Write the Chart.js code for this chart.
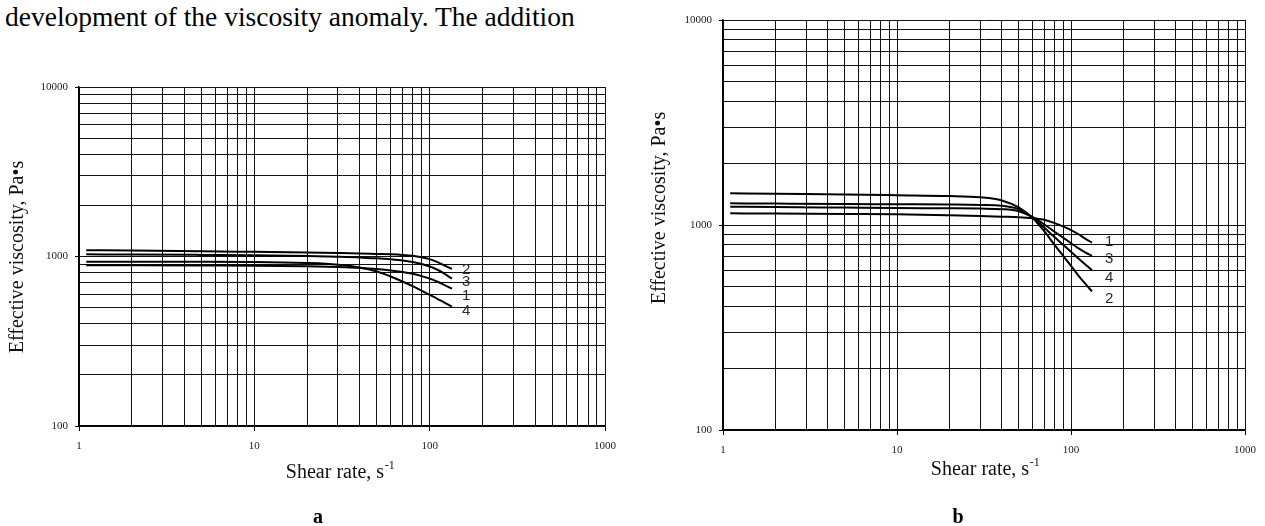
<!DOCTYPE html>
<html>
<head>
<meta charset="utf-8">
<script src="https://cdn.jsdelivr.net/npm/chart.js@4.4.1/dist/chart.umd.min.js"></script>
<style>
  html, body { margin: 0; padding: 0; background: #fff; }
  body { width: 1265px; height: 526px; position: relative; overflow: hidden; font-family: "Liberation Serif", "Times New Roman", serif; }
  #topText { position: absolute; left: 5px; top: 1px; font-size: 27.5px; line-height: 32px; color: #000; white-space: nowrap; }
  .panel { position: absolute; top: 0; }
  #cA { left: 0; }
  #cB { left: 640px; }
  .plabel { position: absolute; top: 505px; font-size: 20px; font-weight: bold; color: #000; transform: translateX(-50%); }
</style>
</head>
<body>
<div id="topText">development of the viscosity anomaly. The addition</div>
<canvas id="cA" class="panel" width="640" height="526"></canvas>
<canvas id="cB" class="panel" width="625" height="526"></canvas>
<div class="plabel" style="left:318px">a</div>
<div class="plabel" style="left:958px">b</div>
<script>
// ---------- data ----------
const curveNames = ['1', '2', '3', '4'];
const xTickLabels = [1, 10, 100, 1000];
const yTickLabels = [100, 1000, 10000];

const shearRateA = [1.1, 2, 5, 10, 20, 30, 40, 50, 60, 70, 80, 90, 100, 110, 120, 134];
const viscA1 = [888, 887, 885, 883, 875, 866, 856, 843, 828, 810, 790, 766, 740, 712, 683, 646];
const viscA2 = [1090, 1085, 1075, 1065, 1055, 1048, 1042, 1035, 1030, 1022, 1010, 990, 965, 930, 890, 846];
const viscA3 = [1030, 1027, 1022, 1018, 1008, 998, 988, 975, 962, 948, 928, 903, 873, 838, 797, 740];
const viscA4 = [930, 930, 930, 928, 915, 895, 862, 815, 762, 712, 668, 628, 594, 565, 538, 506];

const shearRateB = [1.1, 2, 5, 10, 20, 30, 40, 50, 60, 70, 80, 90, 100, 110, 120, 132];
const viscB1 = [1140, 1137, 1132, 1128, 1115, 1105, 1098, 1092, 1080, 1060, 1024, 984, 945, 904, 861, 820];
const viscB2 = [1428, 1420, 1410, 1398, 1385, 1365, 1318, 1218, 1085, 935, 805, 708, 632, 568, 520, 474];
const viscB3 = [1228, 1224, 1216, 1210, 1206, 1202, 1195, 1168, 1095, 1008, 930, 868, 815, 772, 738, 706];
const viscB4 = [1276, 1272, 1266, 1262, 1258, 1253, 1242, 1195, 1088, 972, 876, 802, 740, 688, 645, 603];

const xTitle = 'Shear rate, s';
const xTitleSup = '-1';
const yTitle = 'Effective viscosity, Pa\u2022s';

// ---------- helpers ----------
function decadeGrid(labels) {
  const out = [];
  for (let i = 0; i < labels.length - 1; i++) {
    for (let m = 1; m <= 9; m++) out.push(labels[i] * m);
  }
  out.push(labels[labels.length - 1]);
  return out;
}
function isMajor(v, labels) { return labels.some(l => Math.abs(l - v) < 1e-9); }

const serif = '"Liberation Serif", "Times New Roman", serif';
const gridColor = '#111';

const titlePlugin = {
  id: 'axisTitles',
  afterDraw(chart, args, o) {
    const ctx = chart.ctx;
    ctx.save();
    ctx.fillStyle = '#111';
    ctx.textBaseline = 'middle';
    const big = `${o.size}px ${serif}`;
    const small = `${Math.round(o.size * 0.62)}px ${serif}`;
    ctx.font = big;
    const w1 = ctx.measureText(xTitle).width;
    ctx.font = small;
    const w2 = ctx.measureText(xTitleSup).width;
    const x0 = o.xPos[0] - (w1 + w2) / 2;
    ctx.textAlign = 'left';
    ctx.font = big;
    ctx.fillText(xTitle, x0, o.xPos[1]);
    ctx.font = small;
    ctx.fillText(xTitleSup, x0 + w1 + 0.5, o.xPos[1] - o.size * 0.36);
    ctx.font = big;
    ctx.translate(o.yPos[0], o.yPos[1]);
    ctx.rotate(-Math.PI / 2);
    ctx.textAlign = 'center';
    ctx.fillText(yTitle, 0, 0);
    ctx.restore();
  }
};

const curveLabelPlugin = {
  id: 'curveLabels',
  afterDatasetsDraw(chart, args, o) {
    const ctx = chart.ctx;
    ctx.save();
    ctx.fillStyle = '#2a2a35';
    ctx.font = '15px "Liberation Sans", Arial, sans-serif';
    ctx.textAlign = 'left';
    ctx.textBaseline = 'middle';
    chart.data.datasets.forEach((ds, i) => {
      const meta = chart.getDatasetMeta(i);
      const last = meta.data[meta.data.length - 1];
      ctx.fillText(ds.label, last.x + o.dx, last.y + o.dy[i]);
    });
    ctx.restore();
  }
};

function makeChart(id, xs, series, area, canvasW, canvasH, titles, labelOffsets) {
  const datasets = series.map((vals, i) => ({
    label: curveNames[i],
    data: xs.map((x, j) => ({ x: x, y: vals[j] })),
    borderColor: '#000',
    borderWidth: 2,
    pointRadius: 0,
    fill: false,
    cubicInterpolationMode: 'monotone'
  }));
  const xGrid = decadeGrid(xTickLabels);
  const yGrid = decadeGrid(yTickLabels);
  return new Chart(document.getElementById(id), {
    type: 'line',
    data: { datasets },
    plugins: [titlePlugin, curveLabelPlugin],
    options: {
      responsive: false,
      maintainAspectRatio: false,
      animation: false,
      layout: { padding: { top: area.top, right: canvasW - area.right, left: 0, bottom: 0 } },
      plugins: {
        legend: { display: false },
        tooltip: { enabled: false },
        axisTitles: titles,
        curveLabels: labelOffsets
      },
      scales: {
        x: {
          type: 'logarithmic',
          min: xTickLabels[0],
          max: xTickLabels[xTickLabels.length - 1],
          afterBuildTicks: s => { s.ticks = xGrid.map(v => ({ value: v })); },
          afterFit: s => { s.height = canvasH - area.bottom; },
          ticks: {
            autoSkip: false,
            maxRotation: 0,
            padding: 9,
            color: '#222',
            font: { family: serif, size: 11 },
            callback: v => isMajor(v, xTickLabels) ? String(v) : ''
          },
          grid: {
            color: gridColor,
            lineWidth: 1,
            tickLength: 5,
            tickColor: c => (c.tick && isMajor(c.tick.value, xTickLabels)) ? '#000' : 'rgba(0,0,0,0)'
          },
          border: { display: true, color: '#000', width: 1.5 }
        },
        y: {
          type: 'logarithmic',
          min: yTickLabels[0],
          max: yTickLabels[yTickLabels.length - 1],
          afterBuildTicks: s => { s.ticks = yGrid.map(v => ({ value: v })); },
          afterFit: s => { s.width = area.left; },
          ticks: {
            autoSkip: false,
            padding: 7,
            color: '#222',
            font: { family: serif, size: 11 },
            callback: v => isMajor(v, yTickLabels) ? String(v) : ''
          },
          grid: {
            color: gridColor,
            lineWidth: 1,
            tickLength: 4,
            tickColor: c => (c.tick && isMajor(c.tick.value, yTickLabels)) ? '#000' : 'rgba(0,0,0,0)'
          },
          border: { display: true, color: '#000', width: 1.5 }
        }
      }
    }
  });
}

makeChart('cA', shearRateA, [viscA1, viscA2, viscA3, viscA4],
  { left: 79, right: 605, top: 87, bottom: 426 }, 640, 526,
  { size: 20, xPos: [340, 473], yPos: [18, 257] },
  { dx: 10, dy: [7, 1, 3, 4] });

makeChart('cB', shearRateB, [viscB1, viscB2, viscB3, viscB4],
  { left: 83, right: 610, top: 20, bottom: 430 }, 625, 526,
  { size: 20, xPos: [345, 470], yPos: [20, 208] },
  { dx: 13, dy: [-1, 7, 3, 8] });
</script>
</body>
</html>
